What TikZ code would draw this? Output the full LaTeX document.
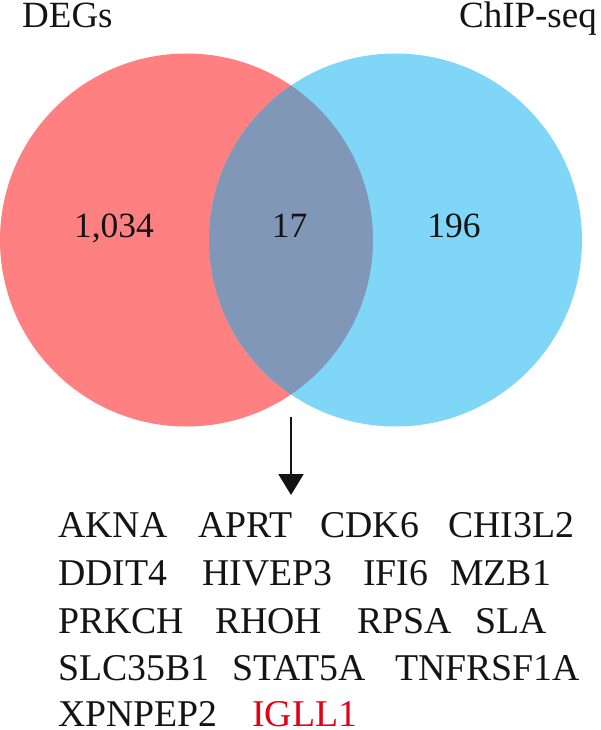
\documentclass[tikz,border=0pt]{standalone}
\usepackage{fontspec}
\setmainfont{Liberation Serif}
\newfontfamily\vennserif{Liberation Serif}
\usetikzlibrary{arrows.meta}
\definecolor{degred}{RGB}{255,128,128}
\definecolor{chipblue}{RGB}{128,214,246}
\definecolor{overlapc}{RGB}{128,151,183}
\definecolor{inkc}{RGB}{20,20,20}
\definecolor{hilite}{RGB}{228,0,18}
\tikzset{
  settitle/.style={inner sep=0pt, font=\vennserif\fontsize{37}{40}\selectfont, text=inkc},
  setcount/.style={inner sep=0pt, anchor=base, font=\vennserif\fontsize{35.5}{40}\selectfont, text=inkc},
  gene/.style={inner sep=0pt, anchor=base west, font=\vennserif\fontsize{37.8}{40}\selectfont, text=inkc},
  keygene/.style={gene, text=hilite},
  flowarrow/.style={draw=inkc, line width=2pt, -{Triangle[width=25pt,length=21pt]}}
}
\begin{document}
\begin{tikzpicture}[x=1pt,y=-1pt]
\useasboundingbox (0,0) rectangle (600,730);
% circles
\fill[degred] (186.5,240) circle[radius=186.5pt];
\fill[chipblue] (395.5,240) circle[radius=186.5pt];
\begin{scope}
  \clip (186.5,240) circle[radius=186.5pt];
  \fill[overlapc] (395.5,240) circle[radius=186.5pt];
\end{scope}
% titles
\node[settitle, anchor=base west] (degs) at (22,28) {DEGs};
\node[settitle, anchor=base east] (chip) at (597,28) {ChIP-seq};
% counts
\node[setcount] (nleft) at (114,237) {1,034};
\node[setcount] (nmid) at (289.5,237) {17};
\node[setcount] (nright) at (454,237) {196};
% arrow
\coordinate (arrtop) at (291,417);
\coordinate (arrtip) at (291,495);
\draw[flowarrow] (arrtop) -- (arrtip);
% gene list
\node[gene] (g1) at (58,537) {AKNA};
\node[gene] (g2) at (198,537) {APRT};
\node[gene] (g3) at (320,537) {CDK6};
\node[gene] (g4) at (448,537) {CHI3L2};
\node[gene] (g5) at (58,585) {DDIT4};
\node[gene] (g6) at (202,585) {HIVEP3};
\node[gene] (g7) at (363,585) {IFI6};
\node[gene] (g8) at (450,585) {MZB1};
\node[gene] (g9) at (58,633) {PRKCH};
\node[gene] (g10) at (215,633) {RHOH};
\node[gene] (g11) at (357,633) {RPSA};
\node[gene] (g12) at (475,633) {SLA};
\node[gene] (g13) at (58,680) {SLC35B1};
\node[gene] (g14) at (232,680) {STAT5A};
\node[gene] (g15) at (395,680) {TNFRSF1A};
\node[gene] (g16) at (58,726) {XPNPEP2};
\node[keygene] (g17) at (252,726) {IGLL1};
\end{tikzpicture}
\end{document}
